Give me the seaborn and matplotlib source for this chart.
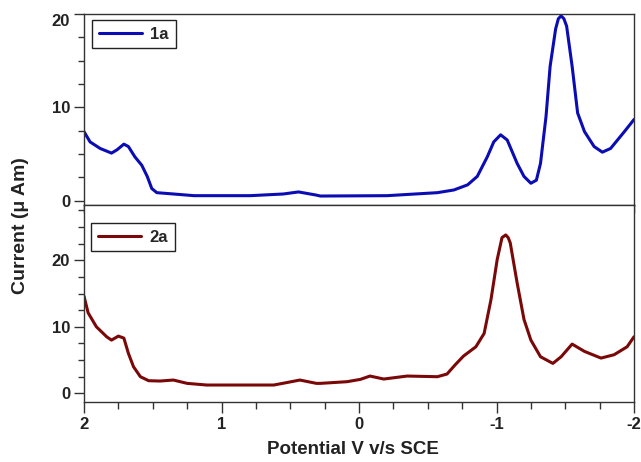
import matplotlib
matplotlib.use("Agg")
import matplotlib.pyplot as plt
import matplotlib.ticker as mticker
import pandas as pd
import seaborn as sns

# curve 1a (top panel)
POT_1A = [2.0, 1.956, 1.883, 1.80, 1.76, 1.71, 1.677, 1.63, 1.58, 1.54, 1.507, 1.47,
          1.35, 1.20, 0.79, 0.55, 0.44, 0.31, 0.281, -0.205, -0.57, -0.69, -0.79, -0.86,
          -0.933, -0.98, -1.03, -1.078, -1.15, -1.20, -1.25, -1.29, -1.32, -1.36, -1.39,
          -1.43, -1.45, -1.47, -1.49, -1.51, -1.55, -1.59, -1.64, -1.71, -1.77, -1.83,
          -1.93, -2.0]
CUR_1A = [7.4, 6.3, 5.6, 5.1, 5.45, 6.06, 5.8, 4.7, 3.8, 2.6, 1.3, 0.86,
          0.72, 0.54, 0.54, 0.72, 0.94, 0.6, 0.5, 0.54, 0.86, 1.15, 1.7, 2.6,
          4.7, 6.3, 7.06, 6.5, 4.0, 2.6, 1.87, 2.2, 4.0, 9.0, 14.4,
          18.4, 19.5, 19.8, 19.5, 18.7, 14.4, 9.4, 7.4, 5.8, 5.2, 5.6,
          7.4, 8.7]

# curve 2a (bottom panel)
POT_2A = [2.0, 1.97, 1.91, 1.835, 1.80, 1.75, 1.71, 1.677, 1.64, 1.59, 1.53, 1.447,
          1.35, 1.25, 1.107, 0.62, 0.53, 0.43, 0.31, 0.28, 0.087, -0.01, -0.08, -0.18,
          -0.35, -0.57, -0.64, -0.70, -0.76, -0.85, -0.91, -0.96, -1.005, -1.04, -1.067,
          -1.085, -1.10, -1.15, -1.20, -1.25, -1.32, -1.41, -1.47, -1.55, -1.64, -1.76,
          -1.855, -1.95, -2.0]
CUR_2A = [14.6, 12.1, 10.0, 8.5, 8.0, 8.6, 8.3, 6.0, 4.0, 2.5, 1.9, 1.85,
          2.0, 1.5, 1.25, 1.25, 1.6, 2.0, 1.5, 1.5, 1.75, 2.1, 2.6, 2.15,
          2.6, 2.5, 2.9, 4.3, 5.6, 7.0, 9.0, 14.1, 20.1, 23.4, 23.8,
          23.4, 22.6, 16.6, 11.1, 8.0, 5.5, 4.5, 5.5, 7.4, 6.3, 5.3,
          5.8, 7.0, 8.5]

X_TICKS = [2, 1, 0, -1, -2]
X_TICK_LABELS = ["2", "1", "0", "-1", "-2"]
Y_TICKS = [0, 10, 20]

BLUE = "#0C0CB4"
MAROON = "#7A0808"
EDGE = "#333333"
TXT = "#222222"

sns.set_theme(style="ticks")
plt.rcParams.update({
    "font.family": ["Liberation Sans", "DejaVu Sans"],
    "font.weight": "bold",
    "font.size": 12,
    "axes.edgecolor": EDGE,
    "axes.linewidth": 1.0,
    "xtick.color": EDGE,
    "ytick.color": EDGE,
    "xtick.labelcolor": TXT,
    "ytick.labelcolor": TXT,
    "xtick.direction": "out",
    "ytick.direction": "out",
})

fig = plt.figure(figsize=(6.41, 4.62), dpi=100)
left, width = 84 / 641, 550 / 641
ax_top = fig.add_axes([left, 1 - 205 / 462, width, 191 / 462])
ax_bot = fig.add_axes([left, 1 - 402 / 462, width, 197 / 462])

df1 = pd.DataFrame({"pot": POT_1A, "cur": CUR_1A})
df2 = pd.DataFrame({"pot": POT_2A, "cur": CUR_2A})

sns.lineplot(data=df1, x="pot", y="cur", ax=ax_top, color=BLUE, lw=2.2, label="1a")
sns.lineplot(data=df2, x="pot", y="cur", ax=ax_bot, color=MAROON, lw=2.2, label="2a")

# legend anchors (axes fraction): top box sits higher than the lower one
legend_anchor = {ax_top: (8 / 550, 1 - 6 / 191), ax_bot: (7 / 550, 1 - 18 / 197)}

for ax in (ax_top, ax_bot):
    ax.set_xlim(2, -2)
    ax.set_xlabel("")
    ax.set_ylabel("")
    for s in ax.spines.values():
        s.set_visible(True)
        s.set_color(EDGE)
    ax.set_yticks(Y_TICKS)
    ax.yaxis.set_minor_locator(mticker.MultipleLocator(2.5))
    ax.tick_params(axis="y", which="major", length=7, width=1, labelsize=12, pad=3)
    ax.tick_params(axis="y", which="minor", length=4, width=1)
    ax.tick_params(right=False, top=False, which="both")
    leg = ax.legend(loc="upper left", bbox_to_anchor=legend_anchor[ax], borderaxespad=0,
                    frameon=True, fancybox=False, handlelength=2.6, borderpad=0.4,
                    handletextpad=0.5, prop={"weight": "bold", "size": 12})
    leg.get_frame().set_edgecolor(TXT)
    leg.get_frame().set_linewidth(1.0)
    leg.get_frame().set_alpha(1)

ax_top.set_ylim(-0.46, 20)
ax_bot.set_ylim(-1.3, 28.3)

# top panel: unlabelled ticks every 0.5 pointing into the lower panel
ax_top.xaxis.set_major_locator(mticker.MultipleLocator(0.5))
ax_top.tick_params(axis="x", which="major", length=6, width=1, labelbottom=False)
ax_top.get_yticklabels()[-1].set_va("top")

ax_bot.set_xticks(X_TICKS)
ax_bot.set_xticklabels(X_TICK_LABELS)
ax_bot.xaxis.set_minor_locator(mticker.MultipleLocator(0.25))
ax_bot.tick_params(axis="x", which="major", length=8, width=1, labelsize=12, pad=3)
ax_bot.tick_params(axis="x", which="minor", length=5, width=1)

fig.text(21 / 641, 1 - 226 / 462, "Current (\u03bc Am)", rotation=90, ha="center",
         va="center", fontsize=14, fontweight="bold", color=TXT)
fig.text(353 / 641, 1 - 449 / 462, "Potential V v/s SCE", ha="center", va="center",
         fontsize=13.5, fontweight="bold", color=TXT)

fig.savefig("out.png", dpi=100)
